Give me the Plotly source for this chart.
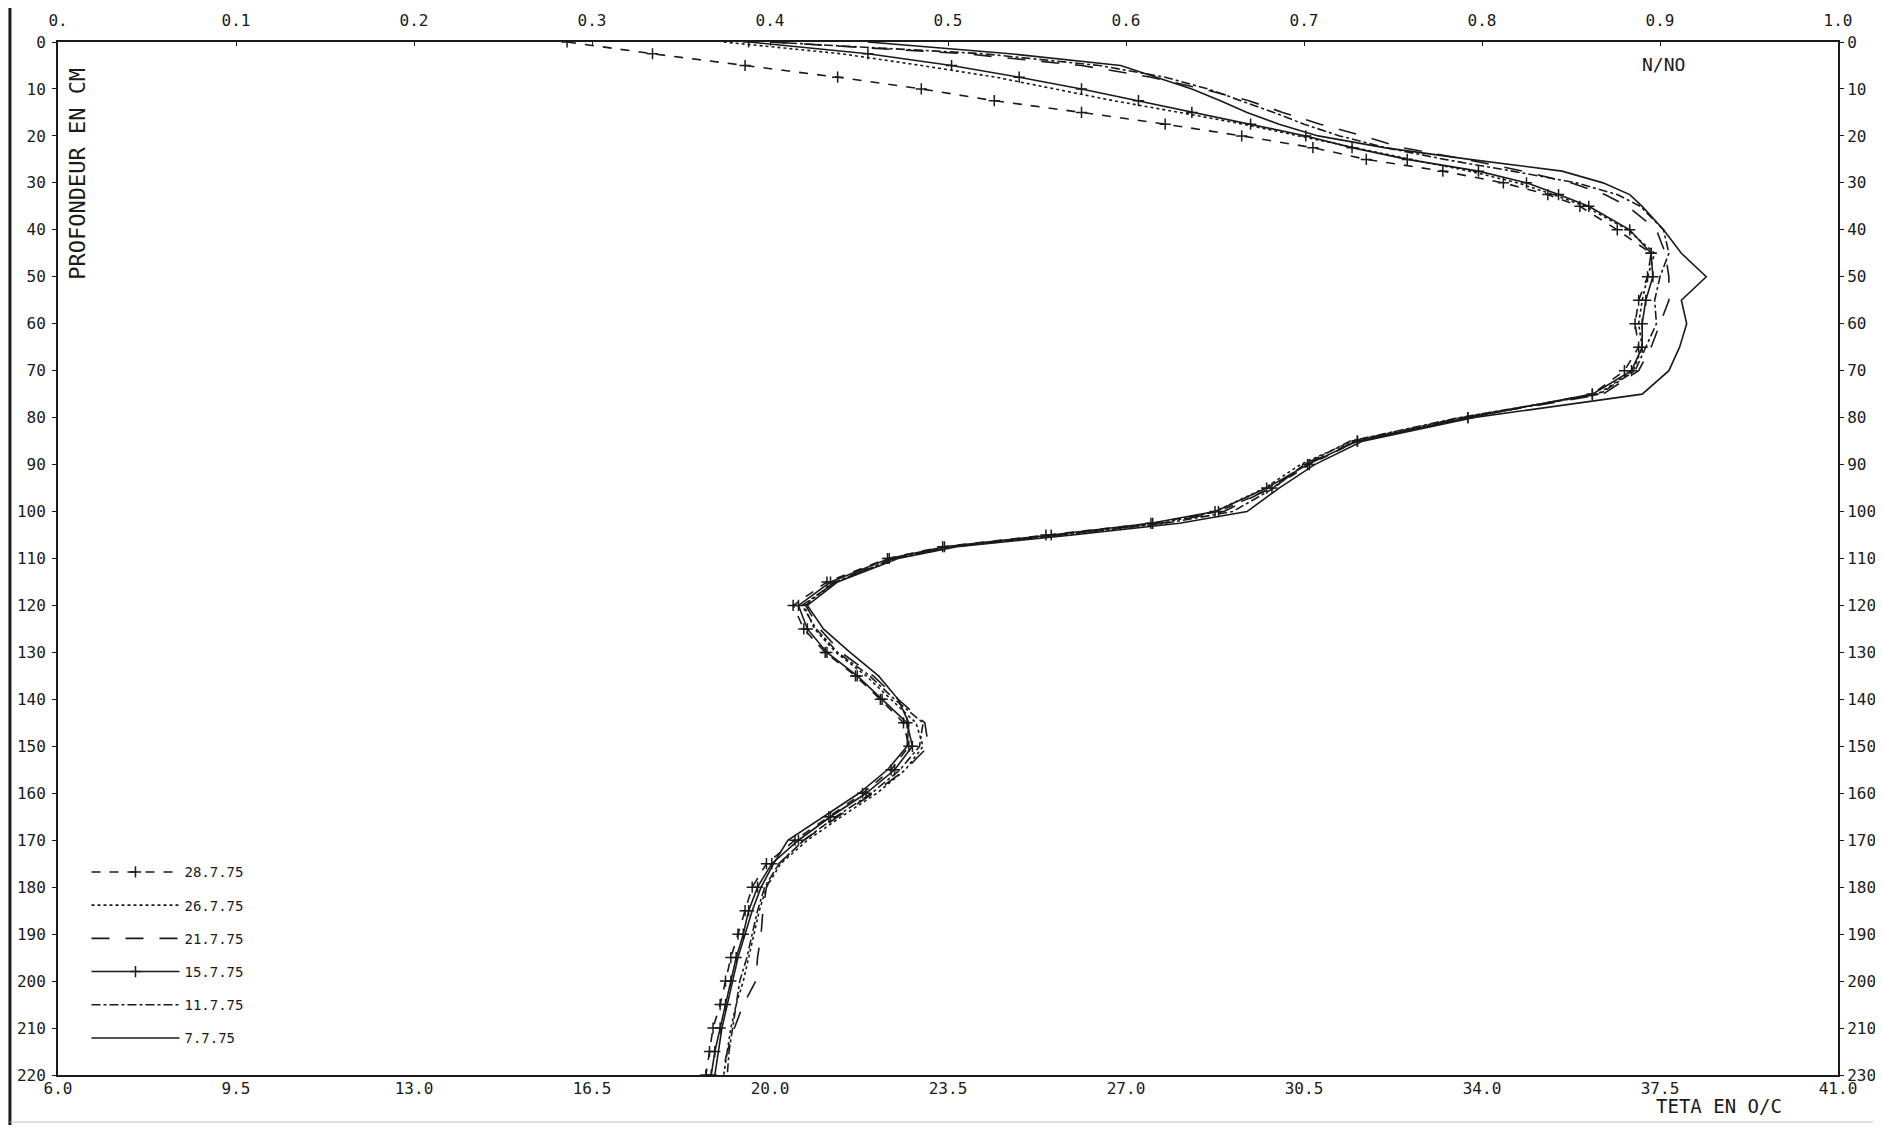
import plotly.graph_objects as go

# Depth (cm)
DEPTH = [0, 2.5, 5, 7.5, 10, 12.5, 15, 17.5, 20, 22.5, 25, 27.5, 30, 32.5, 35,
         40, 45, 50, 55, 60, 65, 70, 75,
         80, 85, 90, 95, 100,
         102.5, 105, 107.5,
         110, 115, 120, 125, 130, 135, 140, 145, 150, 155, 160, 165, 170, 175,
         180, 185, 190, 195, 200, 205, 210, 215, 220]

# N/NO profiles
S_28_7 = [0.286, 0.334, 0.386, 0.438, 0.485, 0.526, 0.575, 0.622, 0.665, 0.705, 0.735, 0.778, 0.812, 0.837, 0.855,
          0.876, 0.895, 0.893, 0.888, 0.886, 0.888, 0.880, 0.862,
          0.792, 0.730, 0.703, 0.682, 0.652,
          0.615, 0.555, 0.497,
          0.466, 0.432, 0.413, 0.419, 0.431, 0.448, 0.462, 0.475, 0.478, 0.468, 0.452, 0.433, 0.414, 0.398,
          0.390, 0.386, 0.382, 0.378, 0.375, 0.372, 0.368, 0.366, 0.364]
S_26_7 = [0.374, 0.440, 0.485, 0.527, 0.560, 0.593, 0.630, 0.666, 0.697, 0.728, 0.760, 0.793, 0.820, 0.840, 0.858,
          0.882, 0.897, 0.893, 0.890, 0.888, 0.890, 0.885, 0.865,
          0.788, 0.727, 0.698, 0.678, 0.650,
          0.620, 0.565, 0.503,
          0.470, 0.437, 0.419, 0.425, 0.437, 0.454, 0.468, 0.482, 0.486, 0.476, 0.460, 0.440, 0.421, 0.406,
          0.398, 0.394, 0.391, 0.388, 0.385, 0.381, 0.378, 0.376, 0.374]
S_21_7 = [0.400, 0.510, 0.575, 0.614, 0.643, 0.669, 0.688, 0.709, 0.733, 0.755, 0.791, 0.823, 0.850, 0.869, 0.882,
          0.898, 0.903, 0.905, 0.905, 0.900, 0.895, 0.888, 0.868,
          0.790, 0.729, 0.701, 0.681, 0.655,
          0.620, 0.562, 0.500,
          0.469, 0.436, 0.420, 0.428, 0.440, 0.458, 0.472, 0.487, 0.489, 0.476, 0.458, 0.438, 0.419, 0.405,
          0.398, 0.396, 0.395, 0.393, 0.392, 0.385, 0.380, 0.376, 0.373]
S_15_7 = [0.388, 0.455, 0.502, 0.540, 0.575, 0.607, 0.637, 0.670, 0.701, 0.727, 0.758, 0.798, 0.825, 0.843, 0.860,
          0.883, 0.895, 0.896, 0.892, 0.890, 0.890, 0.884, 0.862,
          0.792, 0.730, 0.702, 0.679, 0.650,
          0.614, 0.558, 0.498,
          0.467, 0.434, 0.416, 0.421, 0.432, 0.449, 0.463, 0.477, 0.480, 0.470, 0.454, 0.434, 0.416, 0.401,
          0.393, 0.388, 0.385, 0.381, 0.378, 0.375, 0.372, 0.369, 0.367]
S_11_7 = [0.400, 0.520, 0.585, 0.622, 0.646, 0.665, 0.683, 0.700, 0.720, 0.746, 0.779, 0.817, 0.853, 0.876, 0.889,
          0.902, 0.905, 0.900, 0.897, 0.898, 0.892, 0.886, 0.866,
          0.787, 0.726, 0.700, 0.683, 0.660,
          0.622, 0.563, 0.502,
          0.470, 0.437, 0.418, 0.426, 0.438, 0.456, 0.470, 0.486, 0.484, 0.473, 0.457, 0.437, 0.419, 0.405,
          0.397, 0.393, 0.390, 0.387, 0.383, 0.381, 0.379, 0.377, 0.376]
S_7_7 = [0.455, 0.535, 0.597, 0.617, 0.637, 0.653, 0.668, 0.686, 0.708, 0.745, 0.793, 0.845, 0.868, 0.883, 0.890,
         0.902, 0.912, 0.926, 0.912, 0.915, 0.911, 0.905, 0.890,
         0.795, 0.733, 0.706, 0.686, 0.668,
         0.630, 0.570, 0.505,
         0.472, 0.438, 0.421, 0.430, 0.445, 0.461, 0.472, 0.478, 0.477, 0.466, 0.450, 0.430, 0.410, 0.402,
         0.395, 0.390, 0.386, 0.382, 0.379, 0.376, 0.373, 0.371, 0.369]

SERIES_NAMES = ["28.7.75", "26.7.75", "21.7.75", "15.7.75", "11.7.75", "7.7.75"]
SERIES_VALUES = [S_28_7, S_26_7, S_21_7, S_15_7, S_11_7, S_7_7]

# Axis tick labels
TOP_TICKS = [0.0, 0.1, 0.2, 0.3, 0.4, 0.5, 0.6, 0.7, 0.8, 0.9, 1.0]
TOP_LABELS = ["0.", "0.1", "0.2", "0.3", "0.4", "0.5", "0.6", "0.7", "0.8", "0.9", "1.0"]
BOTTOM_TICKS = [6.0, 9.5, 13.0, 16.5, 20.0, 23.5, 27.0, 30.5, 34.0, 37.5, 41.0]
BOTTOM_LABELS = ["6.0", "9.5", "13.0", "16.5", "20.0", "23.5", "27.0", "30.5", "34.0", "37.5", "41.0"]
DEPTH_TICKS = list(range(0, 221, 10))
LEFT_LABELS = [str(v) for v in DEPTH_TICKS]
RIGHT_LABELS = [str(v) for v in DEPTH_TICKS[:-1]] + ["230"]

STYLES = [
    dict(dash="dash", mode="lines+markers"),
    dict(dash="dot", mode="lines"),
    dict(dash="18px,16px", mode="lines"),
    dict(dash="solid", mode="lines+markers"),
    dict(dash="dashdot", mode="lines"),
    dict(dash="solid", mode="lines"),
]

FONT = "DejaVu Sans Mono"
INK = "#1a1a1a"

fig = go.Figure()
for i, (name, vals) in enumerate(zip(SERIES_NAMES, SERIES_VALUES)):
    st = STYLES[i]
    fig.add_trace(go.Scatter(
        x=vals, y=DEPTH, name=name, xaxis="x2", yaxis="y",
        mode=st["mode"],
        line=dict(color=INK, width=1.6, dash=st["dash"]),
        marker=dict(symbol="cross-thin", size=8, line=dict(color=INK, width=1.5), color=INK),
        legendgroup=name,
    ))

# invisible trace to activate right axis
fig.add_trace(go.Scatter(x=[None], y=[None], xaxis="x", yaxis="y2", showlegend=False, hoverinfo="skip"))

axis_common = dict(showgrid=False, zeroline=False, showline=True, linecolor=INK, linewidth=2,
                   automargin=False,
                   tickfont=dict(family=FONT, size=16, color=INK), tickcolor=INK)

fig.update_layout(
    width=1867, height=1117,
    margin=dict(l=50, r=37, t=34, b=50),
    paper_bgcolor="white", plot_bgcolor="white",
    xaxis=dict(range=[6, 41], tickvals=BOTTOM_TICKS, ticktext=BOTTOM_LABELS, side="bottom",
               ticks="", ticklabelstandoff=-2, **axis_common),
    xaxis2=dict(range=[0, 1], tickvals=TOP_TICKS, ticktext=TOP_LABELS, side="top", overlaying="x",
                ticks="inside", ticklen=4, ticklabelstandoff=8, **axis_common),
    yaxis=dict(range=[220, 0], tickvals=DEPTH_TICKS, ticktext=LEFT_LABELS, side="left",
               ticks="outside", ticklen=4, ticklabelstandoff=3, **axis_common),
    yaxis2=dict(range=[220, 0], tickvals=DEPTH_TICKS, ticktext=RIGHT_LABELS, side="right", overlaying="y",
                ticks="outside", ticklen=4, **axis_common),
    legend=dict(x=0.016, y=0.02, xanchor="left", yanchor="bottom", bgcolor="rgba(0,0,0,0)",
                font=dict(family=FONT, size=14, color=INK), traceorder="grouped", tracegroupgap=12,
                itemwidth=88),
    showlegend=True,
    annotations=[
        dict(text="N/NO", x=0.902, y=0.99, xref="paper", yref="paper", showarrow=False,
             font=dict(family=FONT, size=18, color=INK), xanchor="center", yanchor="top"),
        dict(text="TETA EN O/C", x=0.933, y=-0.017, xref="paper", yref="paper", showarrow=False,
             font=dict(family=FONT, size=19, color=INK), xanchor="center", yanchor="top"),
        dict(text="PROFONDEUR EN CM", x=0.011, y=0.872, xref="paper", yref="paper", showarrow=False,
             textangle=-90, font=dict(family=FONT, size=22, color=INK), xanchor="center", yanchor="middle"),
    ],
    shapes=[
        dict(type="line", xref="paper", yref="paper", x0=-0.027, x1=-0.027, y0=-0.05, y1=1.04,
             line=dict(color=INK, width=3)),
        dict(type="line", xref="paper", yref="paper", x0=-0.027, x1=1.0197, y0=-0.0455, y1=-0.0455,
             line=dict(color="#bbbbbb", width=1)),
    ],
)

fig.write_html("out.html")
